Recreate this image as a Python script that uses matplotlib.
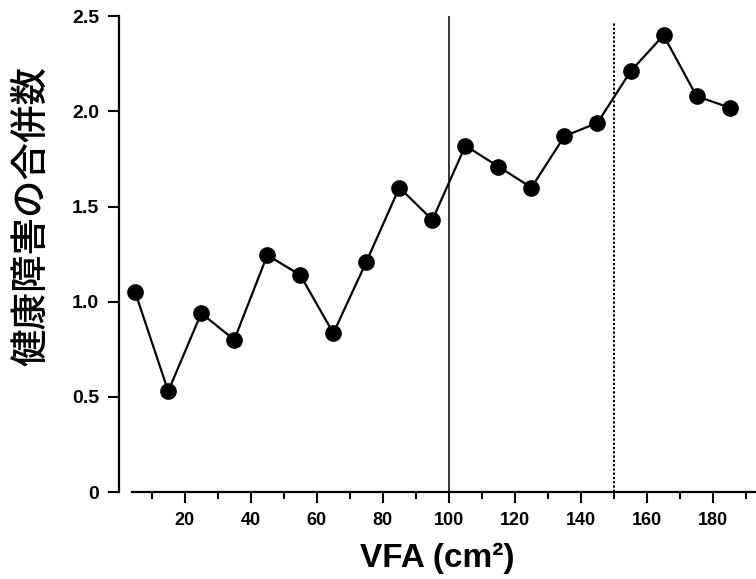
import matplotlib
matplotlib.use("Agg")
import matplotlib.pyplot as plt

plt.rcParams['font.family'] = ['Liberation Sans', 'DejaVu Sans']

# VFA (cm2) bin centers and mean number of comorbidities
vfa = [5, 15, 25, 35, 45, 55, 65, 75, 85, 95,
       105, 115, 125, 135, 145, 155, 165, 175, 185]
counts = [1.05, 0.53, 0.94, 0.80, 1.245, 1.14, 0.835, 1.21, 1.60, 1.43,
          1.82, 1.71, 1.60, 1.87, 1.94, 2.21, 2.40, 2.08, 2.02]

y_ticks = [0, 0.5, 1.0, 1.5, 2.0, 2.5]
y_tick_labels = ["0", "0.5", "1.0", "1.5", "2.0", "2.5"]
x_major = [20, 40, 60, 80, 100, 120, 140, 160, 180]
x_minor = [10, 30, 50, 70, 90, 110, 130, 150, 170, 190]
cutoff_solid = 100
cutoff_dotted = 150

fig = plt.figure(figsize=(7.56, 5.79), dpi=100)
ax = fig.add_axes([0.157, 0.150, 0.843, 0.822])

ax.plot(vfa, counts, color="black", linewidth=1.6, marker="o",
        markersize=11, markerfacecolor="black", markeredgecolor="black", zorder=3)

ax.vlines(cutoff_solid, 0, 2.5, color="black", linewidth=1.1)
ax.vlines(cutoff_dotted, 0, 2.47, color="black", linewidth=1.4,
          linestyles=(0, (1.2, 1.0)))

ax.set_xlim(0, 193)
ax.set_ylim(0, 2.5)

ax.spines['top'].set_visible(False)
ax.spines['right'].set_visible(False)
ax.spines['left'].set_linewidth(1.6)
ax.spines['bottom'].set_linewidth(1.6)
ax.spines['bottom'].set_bounds(4, 193)

ax.set_yticks(y_ticks)
ax.set_yticklabels(y_tick_labels, fontsize=14, fontweight="bold")
ax.set_xticks(x_major)
ax.set_xticklabels([str(v) for v in x_major], fontsize=13, fontweight="bold")
ax.set_xticks(x_minor, minor=True)

ax.tick_params(axis="y", direction="out", length=8, width=1.5, pad=6)
ax.tick_params(axis="x", which="major", direction="out", length=8, width=1.5, pad=6)
ax.tick_params(axis="x", which="minor", direction="out", length=5, width=1.5)

ax.set_xlabel("VFA (cm²)", fontsize=24, fontweight="bold", labelpad=10)
ax.set_ylabel("健康障害の合併数", fontsize=27, fontweight="medium",
              family=['Noto Sans CJK JP', 'DejaVu Sans'])
ax.yaxis.set_label_coords(-0.108, 0.58)

fig.savefig("out.png", dpi=100)
